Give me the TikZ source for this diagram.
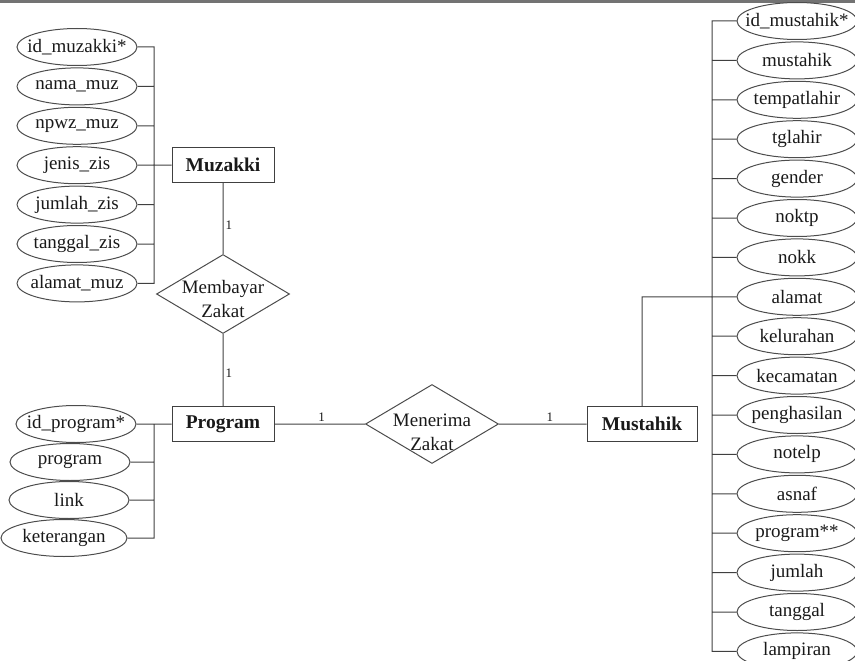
\documentclass[tikz,border=0pt]{standalone}
\usepackage{fontspec}
\setmainfont{Liberation Serif}
\usetikzlibrary{shapes.geometric, positioning}

\begin{document}
\begin{tikzpicture}[x=1pt,y=-1pt,node distance=39.4pt,
  every node/.style={font=\fontsize{19}{24}\selectfont, text=black!90},
  entity/.style={draw=black!75, line width=1pt, minimum width=102pt, minimum height=35pt, inner sep=0pt, font=\fontsize{19.5}{24}\selectfont\bfseries},
  attr/.style={ellipse, draw=black!70, line width=1pt, minimum width=120pt, minimum height=37pt, inner xsep=-14pt, inner ysep=0pt},
  rel/.style={diamond, draw=black!70, line width=1pt, inner sep=0pt, minimum width=133pt, minimum height=79pt},
  card/.style={font=\fontsize{13}{15}\selectfont, inner sep=2pt},
  conn/.style={draw=black!75, line width=1pt}]

  \useasboundingbox (0,0) rectangle (855,661);
  \draw[black!55, line width=3pt] (0,1.5) -- (855,1.5);

  % muzakki
  \node[attr] (idmuz) at (77,47) {id\_muzakki*};
  \node[attr] (namamuz) [below of=idmuz] {nama\_muz};
  \node[attr] (npwzmuz) [below of=namamuz] {npwz\_muz};
  \node[attr] (jeniszis) [below of=npwzmuz] {jenis\_zis};
  \node[attr] (jumlahzis) [below of=jeniszis] {jumlah\_zis};
  \node[attr] (tanggalzis) [below of=jumlahzis] {tanggal\_zis};
  \node[attr] (alamatmuz) [below of=tanggalzis] {alamat\_muz};
  \coordinate (busmuz) at (154,0);

  \node[entity] (muzakki) at (223,165.2) {Muzakki};
  \node[rel, label={[align=center, yshift=-5pt]center:Membayar\\Zakat}] (membayar) at (223,294) {};
  \node[entity] (program) at (223,424) {Program};

  % program
  \node[attr] (idprog) at (76,424) {id\_program*};
  \node[attr] (progname) at (70,462) {program};
  \node[attr] (proglink) at (69,500) {link};
  \node[attr, minimum width=126pt] (progket) at (64,538) {keterangan};
  \coordinate (busprog) at (154,0);

  \node[rel, label={[align=center, yshift=-8pt]center:Menerima\\Zakat}] (menerima) at (432,424) {};
  \node[entity, minimum width=110pt] (mustahik) at (642,424) {Mustahik};

  % mustahik
  \node[attr] (idmus) at (797,21) {id\_mustahik*};
  \node[attr] (musname) [below of=idmus] {mustahik};
  \node[attr] (tempatlahir) [below of=musname] {tempatlahir};
  \node[attr] (tglahir) [below of=tempatlahir] {tglahir};
  \node[attr] (gender) [below of=tglahir] {gender};
  \node[attr] (noktp) [below of=gender] {noktp};
  \node[attr] (nokk) [below of=noktp] {nokk};
  \node[attr] (alamat) [below of=nokk] {alamat};
  \node[attr] (kelurahan) [below of=alamat] {kelurahan};
  \node[attr] (kecamatan) [below of=kelurahan] {kecamatan};
  \node[attr] (penghasilan) [below of=kecamatan] {penghasilan};
  \node[attr] (notelp) [below of=penghasilan] {notelp};
  \node[attr] (asnaf) [below of=notelp] {asnaf};
  \node[attr] (musprog) [below of=asnaf] {program**};
  \node[attr] (jumlah) [below of=musprog] {jumlah};
  \node[attr] (tanggal) [below of=jumlah] {tanggal};
  \node[attr] (lampiran) [below of=tanggal] {lampiran};
  \coordinate (busmus) at (712,0);

  \path[conn]
  (idmuz.east) -- (idmuz.east -| busmuz) -- (alamatmuz.east -| busmuz) -- (alamatmuz.east)
  (namamuz.east) -- (namamuz.east -| busmuz)
  (npwzmuz.east) -- (npwzmuz.east -| busmuz)
  (jeniszis.east) -- (muzakki.west)
  (jumlahzis.east) -- (jumlahzis.east -| busmuz)
  (tanggalzis.east) -- (tanggalzis.east -| busmuz)

  (muzakki) -- node[card, right, pos=0.6] {1} (membayar)
  (membayar) -- node[card, right, pos=0.55] {1} (program)

  (idprog.east) -- (program.west)
  (idprog.east -| busprog) -- (progket.east -| busprog) -- (progket.east)
  (progname.east) -- (progname.east -| busprog)
  (proglink.east) -- (proglink.east -| busprog)

  (program) -- node[card, above, pos=0.52] {1} (menerima)
  (menerima) -- node[card, above, pos=0.58] {1} (mustahik)

  (mustahik.north) -- (mustahik.north |- alamat.west) -- (alamat.west)
  (idmus.west) -- (idmus.west -| busmus) -- (lampiran.west -| busmus) -- (lampiran.west)
  (musname.west) -- (musname.west -| busmus)
  (tempatlahir.west) -- (tempatlahir.west -| busmus)
  (tglahir.west) -- (tglahir.west -| busmus)
  (gender.west) -- (gender.west -| busmus)
  (noktp.west) -- (noktp.west -| busmus)
  (nokk.west) -- (nokk.west -| busmus)
  (kelurahan.west) -- (kelurahan.west -| busmus)
  (kecamatan.west) -- (kecamatan.west -| busmus)
  (penghasilan.west) -- (penghasilan.west -| busmus)
  (notelp.west) -- (notelp.west -| busmus)
  (asnaf.west) -- (asnaf.west -| busmus)
  (musprog.west) -- (musprog.west -| busmus)
  (jumlah.west) -- (jumlah.west -| busmus)
  (tanggal.west) -- (tanggal.west -| busmus)
  ;
\end{tikzpicture}
\end{document}
